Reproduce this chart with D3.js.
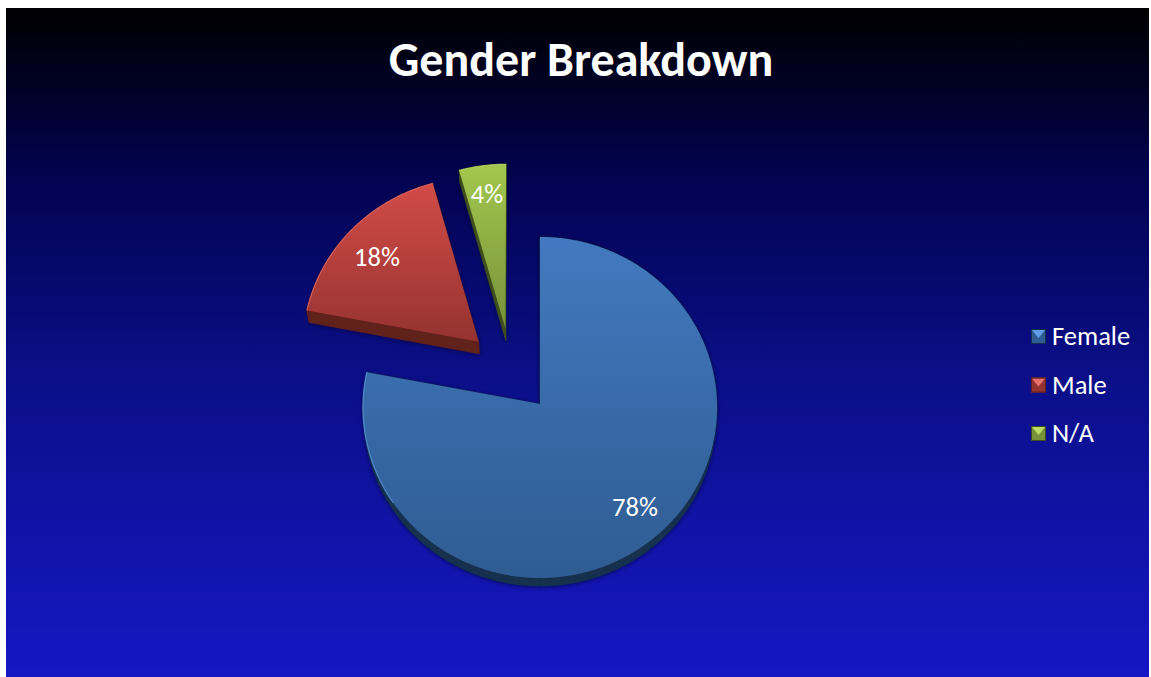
<!DOCTYPE html>
<html>
<head>
<meta charset="utf-8">
<script src="https://cdn.jsdelivr.net/npm/d3@7"></script>
<style>
html,body{margin:0;padding:0;background:#fff;overflow:hidden}
text{font-family:Carlito,Lato,"Open Sans","Noto Sans",sans-serif;fill:#fff}
</style>
</head>
<body>
<svg id="c" width="1151" height="677"></svg>
<script>
const categories = ["Female","Male","N/A"];
const values = [78,17.6,4.4];
const labels = ["78%","18%","4%"];
const titleText = "Gender Breakdown";
const faceTop = ["#4279c0","#d24b48","#a3c74e"];
const faceBottom = ["#2f5c92","#953330","#76923a"];
const sideColor = ["#14304f","#62201d","#3f4f1c"];
const rimColor = ["#5f9ee6","#e8706c","#b9dc63"];

const svg = d3.select("#c");
const W = 1149, H = 677, X0 = 6, Y0 = 8;
const defs = svg.append("defs");
const bg = defs.append("linearGradient").attr("id","bg").attr("x1",0).attr("y1",0).attr("x2",0).attr("y2",1);
bg.append("stop").attr("offset",0).attr("stop-color","#000000");
bg.append("stop").attr("offset",0.25).attr("stop-color","#020250");
bg.append("stop").attr("offset",0.55).attr("stop-color","#0a0f88");
bg.append("stop").attr("offset",1).attr("stop-color","#1717c4");
svg.append("rect").attr("x",X0).attr("y",Y0).attr("width",W-X0).attr("height",H-Y0).attr("fill","url(#bg)");

const shadow = defs.append("filter").attr("id","sh").attr("x","-10%").attr("y","-10%").attr("width","120%").attr("height","120%");
shadow.append("feDropShadow").attr("dx",0).attr("dy",1).attr("stdDeviation",2)
  .attr("flood-color","#000020").attr("flood-opacity",0.55);

svg.append("text").attr("x",581).attr("y",76).attr("text-anchor","middle")
  .attr("font-size",48).attr("font-weight",700).text(titleText);

// Pie geometry: a flat disc seen in light perspective
const radius = 177, explode = 45, k = 0.963, p = 1.146e-4;
const pieGen = d3.pie().sort(null).value(d=>d);
const arcs = pieGen(values);
const mid0 = (arcs[0].startAngle+arcs[0].endAngle)/2;
const trueX = -explode*Math.sin(mid0), trueY = -explode*Math.cos(mid0);
const scx = 540, scy = 404;
function proj(X,Y){ const f=1+p*Y; return [scx+X/f, scy-k*Y/f]; }
function bottomOf(pt){
  const d = 12-(Math.max(pt[1],340)-340)*4/240;
  return [scx+(pt[0]-scx)*0.99, pt[1]+d];
}
const line = d3.line();
const rimFrom = 235*Math.PI/180;
function outline(a){
  const m=(a.startAngle+a.endAngle)/2;
  const ox=trueX+explode*Math.sin(m), oy=trueY+explode*Math.cos(m);
  const n=Math.ceil((a.endAngle-a.startAngle)/0.01);
  const pts=[proj(ox,oy)], rim=[];
  d3.range(n+1).forEach(i=>{
    const t=a.startAngle+(a.endAngle-a.startAngle)*i/n;
    const q=proj(ox+radius*Math.sin(t),oy+radius*Math.cos(t));
    pts.push(q);
    if(t>=rimFrom) rim.push(q);
  });
  return {pts,rim};
}
const slices = arcs.map((a,i)=>({a,i,...outline(a)}));
const g = svg.append("g");
slices.forEach(s=>{
  const i=s.i, id="f"+i;
  const gr=defs.append("linearGradient").attr("id",id).attr("gradientUnits","userSpaceOnUse")
    .attr("x1",0).attr("x2",0)
    .attr("y1",d3.min(s.pts,d=>d[1])).attr("y2",d3.max(s.pts,d=>d[1]));
  gr.append("stop").attr("offset",0).attr("stop-color",faceTop[i]);
  gr.append("stop").attr("offset",1).attr("stop-color",faceBottom[i]);
  const low=s.pts.map(bottomOf);
  const sideG=g.append("g").attr("filter","url(#sh)");
  sideG.append("path").attr("d",line(low)+"Z").attr("fill",sideColor[i]);
  s.pts.forEach((pt,j)=>{
    const nx=(j+1)%s.pts.length;
    sideG.append("path").attr("d",line([pt,s.pts[nx],low[nx],low[j]])+"Z")
      .attr("fill",sideColor[i]).attr("stroke",sideColor[i]).attr("stroke-width",0.5);
  });
  g.append("path").attr("d",line(s.pts)+"Z").attr("fill",`url(#${id})`);
  g.append("path").attr("d",line(s.rim)).attr("fill","none").attr("stroke",rimColor[i])
    .attr("stroke-width",1.2).attr("stroke-opacity",0.75);
});

// Data labels
const labelPos=[[635,516],[377,266],[487,203]];
labels.forEach((t,i)=>{
  svg.append("text").attr("x",labelPos[i][0]).attr("y",labelPos[i][1]).attr("text-anchor","middle")
    .attr("font-size",26.5).text(t);
});

// Legend
const legendY=d3.scalePoint().domain(categories).range([337,434]);
categories.forEach((c,i)=>{
  const y=legendY(c), x=1031, s=15;
  const lg=svg.append("g");
  lg.append("rect").attr("x",x).attr("y",y-8).attr("width",s).attr("height",s).attr("fill",faceBottom[i]);
  lg.append("path").attr("d",line([[x+1,y-7],[x+s-1,y-7],[x+s/2,y+1]])+"Z").attr("fill",rimColor[i]);
  lg.append("rect").attr("x",x+0.5).attr("y",y-7.5).attr("width",s-1).attr("height",s-1).attr("fill","none").attr("stroke",sideColor[i]).attr("stroke-width",1);
  svg.append("text").attr("x",1052).attr("y",y+8).attr("font-size",26.5).text(c);
});
</script>
</body>
</html>
